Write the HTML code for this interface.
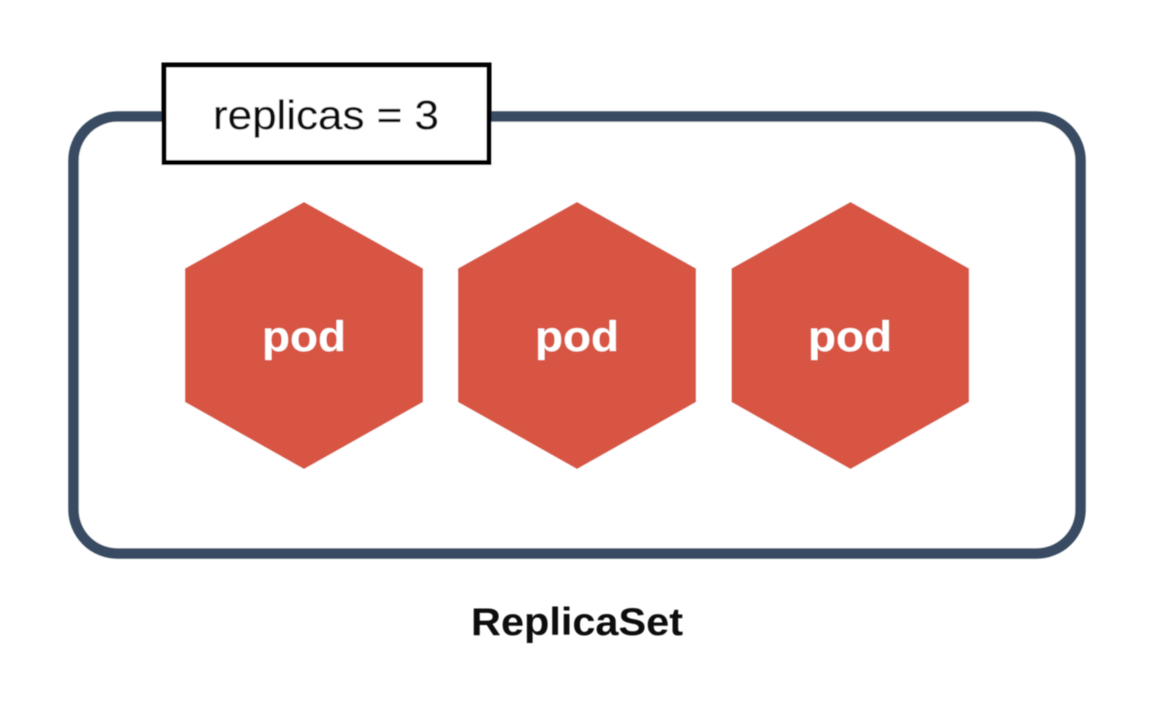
<!DOCTYPE html>
<html>
<head>
<meta charset="utf-8">
<style>
html,body{margin:0;padding:0;background:#fff;}
svg{display:block;}
text{font-family:"Liberation Sans",sans-serif;}
</style>
</head>
<body>
<svg width="1168" height="708" viewBox="0 0 1168 708" xmlns="http://www.w3.org/2000/svg">
<defs><filter id="b" x="-5%" y="-5%" width="110%" height="110%"><feGaussianBlur stdDeviation="0.5"/></filter></defs>
<rect width="1168" height="708" fill="#fff"/>
<g filter="url(#b)">
<rect x="73.500" y="116.500" width="1007" height="437" rx="44" ry="44" fill="#fff" stroke="#384c62" stroke-width="10.500"/>
<rect x="164" y="65" width="325" height="97.500" fill="#fff" stroke="#050505" stroke-width="5"/>
<text x="326" y="129" font-size="41" text-anchor="middle" fill="#0c0c0c" stroke="#0c0c0c" stroke-width="0.300" textLength="226" lengthAdjust="spacingAndGlyphs">replicas = 3</text>
<polygon points="304,202 423,268.500 423,402 304,469 185,402 185,268.500" fill="#d75542"/>
<polygon points="577,202 696,268.500 696,402 577,469 458,402 458,268.500" fill="#d75542"/>
<polygon points="850.500,202 969,268.500 969,402 850.500,469 731.500,402 731.500,268.500" fill="#d75542"/>
<text x="304" y="351" font-size="43" font-weight="bold" text-anchor="middle" fill="#fff" textLength="84" lengthAdjust="spacingAndGlyphs">pod</text>
<text x="577" y="351" font-size="43" font-weight="bold" text-anchor="middle" fill="#fff" textLength="84" lengthAdjust="spacingAndGlyphs">pod</text>
<text x="850" y="351" font-size="43" font-weight="bold" text-anchor="middle" fill="#fff" textLength="84" lengthAdjust="spacingAndGlyphs">pod</text>
<text x="577" y="635" font-size="39" font-weight="bold" text-anchor="middle" fill="#0f0f0f" textLength="212" lengthAdjust="spacingAndGlyphs">ReplicaSet</text>
</g>
</svg>
</body>
</html>
